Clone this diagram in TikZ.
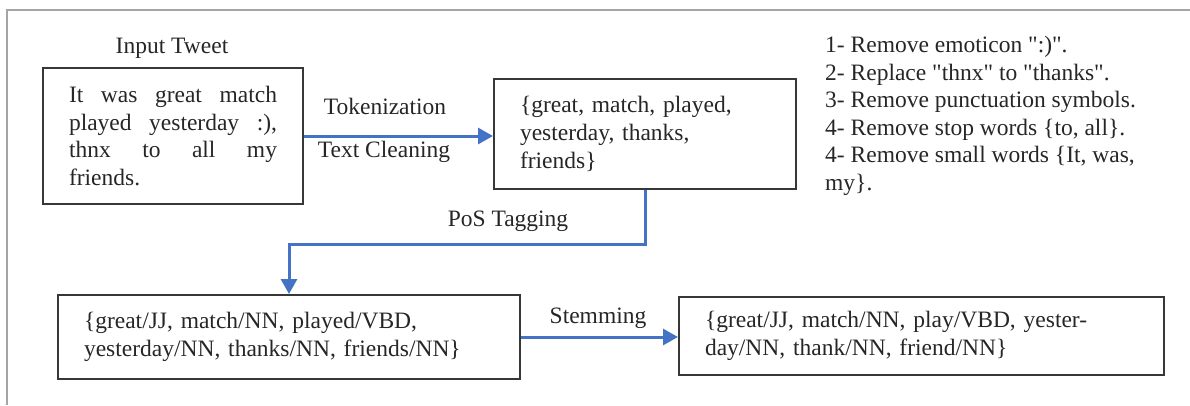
\documentclass[tikz,border=0pt]{standalone}
\usepackage{fontspec}
\setmainfont{Liberation Serif}
\usetikzlibrary{arrows.meta}
\definecolor{flowblue}{RGB}{68,114,196}
\definecolor{boxgray}{RGB}{55,55,55}
\definecolor{framegray}{RGB}{165,165,165}
\newcommand{\jline}[1]{\makebox[208pt][l]{#1}}
\newcommand{\qq}{\textquotedbl}
\tikzset{
  txt/.style={font=\fontsize{23.5}{27.6}\selectfont, text=black!85},
  stagebox/.style={txt, draw=boxgray, line width=2pt, align=left, inner xsep=26pt, inner ysep=0pt, anchor=north west},
  flow/.style={draw=flowblue, line width=3pt, -{Triangle[length=15pt,width=16pt]}},
  lbl/.style={txt, inner sep=0pt, anchor=base},
  framelines/.style={draw=framegray, line width=1.5pt},
}
\begin{document}
\begin{tikzpicture}[x=1pt, y=-1pt]
\useasboundingbox (0,0) rectangle (1190,405);
% outer frame (top and left edges)
\coordinate (fbl) at (7,405);
\coordinate (ftl) at (7,10);
\coordinate (ftr) at (1190,10);
\draw[framelines] (fbl) -- (ftl) -- (ftr);

% boxes
\node[stagebox, text width=208pt, minimum height=136pt] (tweet) at (42,67)
  {\jline{It\hfill was\hfill great\hfill match}\\
   \jline{played\hfill yesterday\hfill :),}\\
   \jline{thnx\hfill to\hfill all\hfill my}\\
   friends.};
\node[stagebox, text width=250pt, minimum height=110pt] (tokens) at (493,78)
  {\{great, match, played,\\ yesterday, thanks,\\ friends\}};
\node[stagebox, text width=410pt, minimum height=84pt] (pos) at (57,294)
  {\{great/JJ, match/NN, played/VBD,\\ yesterday/NN, thanks/NN, friends/NN\}};
\node[stagebox, text width=433pt, minimum height=78pt] (stem) at (678,296)
  {\{great/JJ, match/NN, play/VBD, yester-\\ day/NN, thank/NN, friend/NN\}};

% labels
\node[lbl] (inlbl) at (172,53) {Input Tweet};
\node[lbl] (toklbl) at (385,114) {Tokenization};
\node[lbl] (cleanlbl) at (384,157) {Text Cleaning};
\node[lbl] (poslbl) at (508,226) {PoS Tagging};
\node[lbl] (stemlbl) at (598,323) {Stemming};

% cleaning steps list
\node[txt, align=left, inner sep=0pt, anchor=north west] (steps) at (825,36)
  {1- Remove emoticon \qq:)\qq.\\
   2- Replace \qq thnx\qq{} to \qq thanks\qq.\\
   3- Remove punctuation symbols.\\
   4- Remove stop words \{to, all\}.\\
   4- Remove small words \{It, was,\\
   my\}.};

% connectors
\draw[flow] (tweet.east) -- (tweet.east -| tokens.west);
\draw[flow] (tokens.south) -- ++(0,54) -| (pos.north);
\draw[flow] (pos.east) -- (pos.east -| stem.west);
\end{tikzpicture}
\end{document}
